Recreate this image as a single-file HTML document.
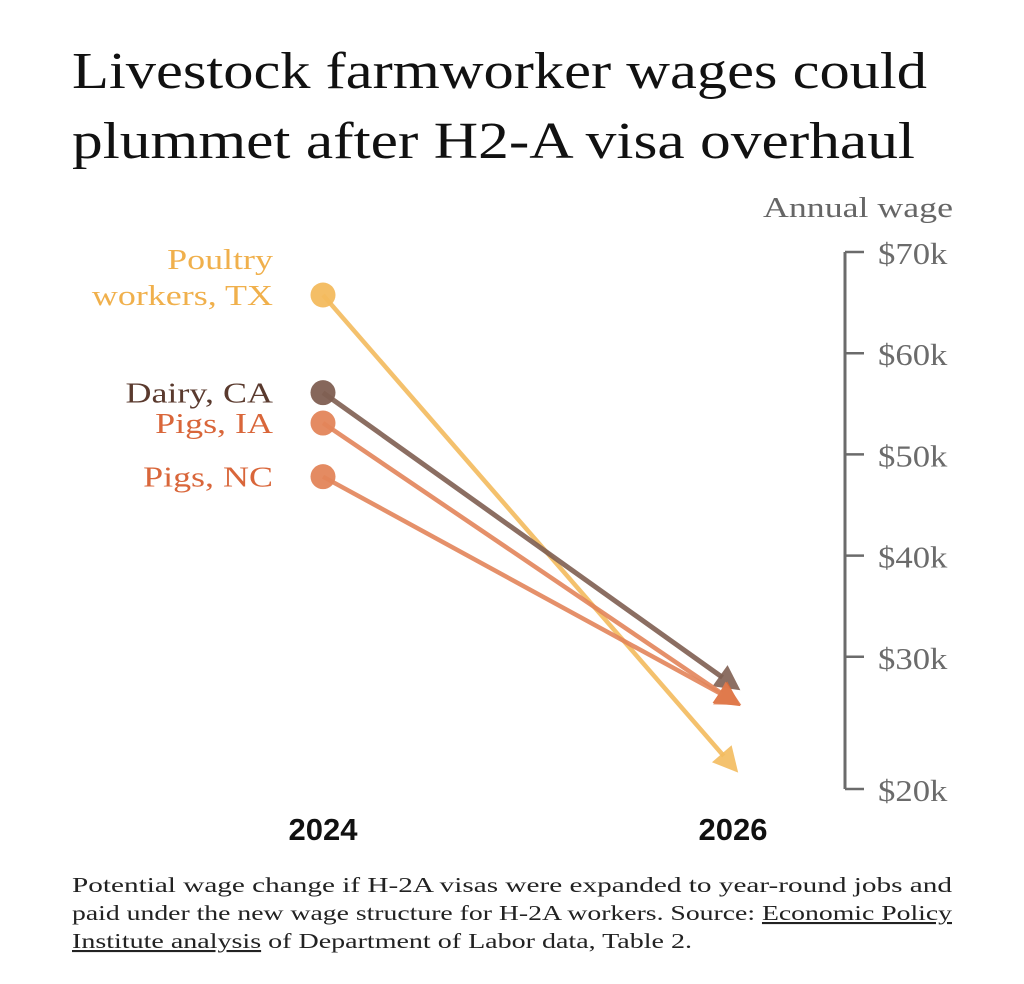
<!DOCTYPE html>
<html><head><meta charset="utf-8"><style>
html,body{margin:0;padding:0;background:#fff;}
svg{display:block;font-family:"Liberation Serif",serif;}
</style></head><body>
<svg id="chart" width="1024" height="984" viewBox="0 0 1024 984">
<text x="72" y="88" font-size="52" fill="#111" textLength="855" lengthAdjust="spacingAndGlyphs">Livestock farmworker wages could</text>
<text x="72" y="158" font-size="52" fill="#111" textLength="843" lengthAdjust="spacingAndGlyphs">plummet after H2-A visa overhaul</text>
<text x="953" y="217" font-size="28" fill="#666" text-anchor="end" textLength="190" lengthAdjust="spacingAndGlyphs">Annual wage</text>
<g id="axis"></g>
<g id="lines"></g>
<text x="323" y="840" font-family="Liberation Sans, sans-serif" font-weight="bold" font-size="31" text-anchor="middle" fill="#111">2024</text>
<text x="733" y="840" font-family="Liberation Sans, sans-serif" font-weight="bold" font-size="31" text-anchor="middle" fill="#111">2026</text>
<g font-size="21" fill="#222">
<text x="72" y="892" textLength="880" lengthAdjust="spacingAndGlyphs">Potential wage change if H-2A visas were expanded to year-round jobs and</text>
<text x="72" y="920" textLength="880" lengthAdjust="spacingAndGlyphs">paid under the new wage structure for H-2A workers. Source: <tspan text-decoration="underline">Economic Policy</tspan></text>
<text x="72" y="948" textLength="620" lengthAdjust="spacingAndGlyphs"><tspan text-decoration="underline">Institute analysis</tspan> of Department of Labor data, Table 2.</text>
</g>
</svg>
<script>
const series = ["Poultry workers, TX","Dairy, CA","Pigs, IA","Pigs, NC"];
const wage2024 = [65.75, 56.1, 53.1, 47.8];
const wage2026 = [19.6, 27.5, 25.9, 25.9];
const tickValues = [70, 60, 50, 40, 30, 20];
const tickLabels = ["$70k","$60k","$50k","$40k","$30k","$20k"];
const labelLines = [["Poultry","workers, TX"],["Dairy, CA"],["Pigs, IA"],["Pigs, NC"]];
const colors = ["#f3bb5e","#7f5f52","#e3855a","#e3855a"];
const triColors = ["#f3bb5e","#7f5f52","#dc6834","#e07a4c"];
const NS="http://www.w3.org/2000/svg";
function y(v){return 252+(70-v)*10.12;}
function tickY(v,i){return i===tickValues.length-1 ? 789 : y(v);}
const x0=323,x1=729;
function mk(tag,attrs,parent){const e=document.createElementNS(NS,tag);for(const k in attrs)e.setAttribute(k,attrs[k]);parent.appendChild(e);return e;}
function stretch(el,f){const w=el.getComputedTextLength();el.setAttribute('textLength',(w*f).toFixed(1));el.setAttribute('lengthAdjust','spacingAndGlyphs');}
const axis=document.getElementById('axis');
const ax=mk('line',{x1:845,x2:845,y1:tickY(tickValues[0],0),y2:tickY(tickValues[5],5),stroke:'#6b6b6b','stroke-width':3},axis);


tickValues.forEach((v,i)=>{
  const ty=tickY(v,i);
  const t=mk('line',{x1:845,x2:864,y1:ty,y2:ty,stroke:'#6b6b6b','stroke-width':2.5},axis);
  
  
  const l=mk('text',{x:878,y:ty+12,'font-size':31,fill:'#6b6b6b'},axis);
  l.textContent=tickLabels[i];
  
  
  stretch(l,1.12);
});
const g=document.getElementById('lines');
series.forEach((s,i)=>{
  const ya=y(wage2024[i]), yb=y(wage2026[i]);
  const ang=Math.atan2(yb-ya,x1-x0);
  const ln=mk('line',{x1:x0,y1:ya,x2:x1-Math.cos(ang)*8,y2:yb-Math.sin(ang)*8,stroke:colors[i],'stroke-width':i===1?5:4.5,opacity:0.9},g);
  
  
  const c=mk('circle',{cx:x0,cy:ya,r:12.5,fill:colors[i],opacity:0.95},g);
  
  
  const deg=ang*180/Math.PI;
  const tri=mk('polygon',{points:'14,0 -11,-13 -11,13',fill:triColors[i],opacity:0.9,transform:`translate(${x1},${yb}) rotate(${deg})`},g);
  
  
  const lines=labelLines[i];
  lines.forEach((t,j)=>{
    const tx=mk('text',{x:273,y:ya+10-(lines.length-1-j)*36,'font-size':29,'text-anchor':'end',fill:i===1?'#5a3a2e':(i===0?'#f0b04c':'#d9663a')},g);
    tx.textContent=t;
    
    
    stretch(tx,1.24);
  });
});
</script>
</body></html>
